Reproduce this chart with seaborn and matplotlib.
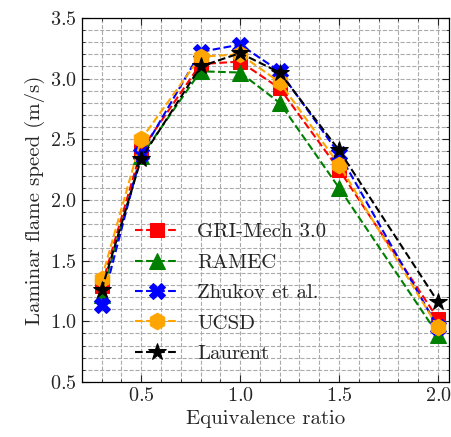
import matplotlib
matplotlib.use("Agg")
import matplotlib.pyplot as plt
import seaborn as sns
import numpy as np
from matplotlib.ticker import MultipleLocator

phi = [0.3, 0.5, 0.8, 1.0, 1.2, 1.5, 2.0]
gri = [1.29, 2.41, 3.12, 3.14, 2.92, 2.25, 1.02]
ramec = [1.22, 2.36, 3.06, 3.05, 2.80, 2.10, 0.89]
zhukov = [1.13, 2.38, 3.22, 3.28, 3.06, 2.38, 0.95]
ucsd = [1.35, 2.50, 3.18, 3.20, 2.97, 2.29, 0.95]
laurent = [1.26, 2.34, 3.10, 3.21, 3.05, 2.41, 1.16]

labels = ["GRI-Mech 3.0", "RAMEC", "Zhukov et al.", "UCSD", "Laurent"]
series = [gri, ramec, zhukov, ucsd, laurent]
colors = ["red", "green", "blue", "orange", "black"]
markers = ["s", "^", "X", "h", "*"]
msizes = [10.5, 11, 11, 12, 13]

sns.set_style("ticks")
plt.rcParams["font.family"] = ["serif"]
plt.rcParams["font.serif"] = ["cmr10"]
plt.rcParams["mathtext.fontset"] = "cm"
plt.rcParams["axes.formatter.use_mathtext"] = True

fig = plt.figure(figsize=(4.52, 4.37), dpi=100)
ax = fig.add_axes([0.181, 0.126, 0.812, 0.833])

for lab, ys, c, m, ms in zip(labels, series, colors, markers, msizes):
    sns.lineplot(x=phi, y=ys, ax=ax, color=c, marker=m, markersize=ms,
                 linestyle="--", linewidth=1.5, label=lab,
                 markeredgecolor=c, dashes=False)
    ax.lines[-1].set_linestyle("--")

ax.set_xlim(0.2, 2.055)
ax.set_ylim(0.5, 3.5)
ax.xaxis.set_major_locator(MultipleLocator(0.5))
ax.xaxis.set_minor_locator(MultipleLocator(0.1))
ax.yaxis.set_major_locator(MultipleLocator(0.5))
ax.yaxis.set_minor_locator(MultipleLocator(0.1))
ax.grid(which="both", linestyle="--", color="#aaaaaa", linewidth=0.8)
ax.set_axisbelow(True)
ax.tick_params(which="both", direction="in", top=True, right=True, labelsize=14.5)
ax.tick_params(which="major", length=5)
ax.tick_params(which="minor", length=2.5)
for s in ax.spines.values():
    s.set_color("black")
    s.set_linewidth(0.9)

ax.set_xlabel("Equivalence ratio", fontsize=15)
ax.set_ylabel("Laminar flame speed (m/s)", fontsize=15)

leg = ax.legend(loc="lower left", bbox_to_anchor=(0.093, 0.0), frameon=False,
                fontsize=15, labelspacing=0.57, handlelength=2.1,
                handletextpad=0.9)
for line in leg.get_lines():
    line.set_linestyle("--")

fig.savefig("out.png", dpi=100)
